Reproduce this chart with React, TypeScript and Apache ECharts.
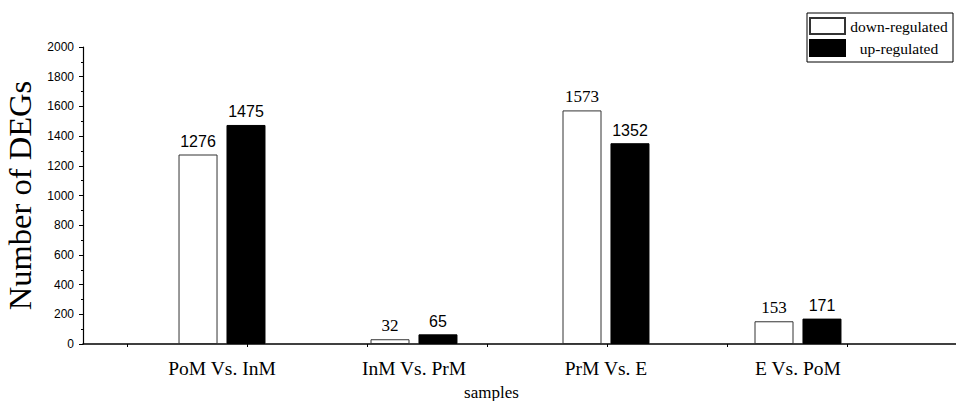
import React, { useEffect, useRef } from "react";
import * as echarts from "echarts";

const categories = ["PoM Vs. InM", "InM Vs. PrM", "PrM Vs. E", "E Vs. PoM"];
const downRegulated = [1276, 32, 1573, 153];
const upRegulated = [1475, 65, 1352, 171];
const categoryPositions = [1, 2, 3, 4];
const xTickPositions = [0.505, 1.13, 1.755, 2.38, 3.005, 3.63, 4.255];
const downLabelSerif = [false, true, true, true];

const SERIF = "'Liberation Serif', 'Times New Roman', serif";
const SANS = "'Liberation Sans', Arial, sans-serif";

export default function App() {
  const ref = useRef<HTMLDivElement>(null);
  useEffect(() => {
    const chart = echarts.init(ref.current!, null, { renderer: "svg" });
    chart.setOption({
      animation: false,
      backgroundColor: "#fff",
      grid: { left: 83, right: 0, top: 47, bottom: 57, containLabel: false, outerBoundsMode: "none" },
      legend: {
        orient: "vertical",
        left: 807,
        top: 13,
        padding: [4, 5, 5, 2],
        itemWidth: 35,
        itemHeight: 16,
        itemGap: 4,
        borderColor: "#000",
        borderWidth: 1,
        borderRadius: 0,
        icon: "rect",
        formatter: (name: string) => `{t|${name}}`,
        textStyle: {
          color: "#000",
          rich: {
            t: { fontFamily: SERIF, fontSize: 15.5, color: "#000", width: 98, align: "center", lineHeight: 16 },
          },
        },
        data: ["down-regulated", "up-regulated"],
      },
      xAxis: {
        type: "value",
        min: 0.276,
        max: 4.823,
        name: "samples",
        nameLocation: "middle",
        nameGap: 40,
        nameTextStyle: { fontFamily: SERIF, fontSize: 17, color: "#000", padding: [0, 56, 0, 0] },
        splitLine: { show: false },
        axisLine: { show: true, lineStyle: { color: "#000", width: 1.5 } },
        axisTick: { show: true, customValues: xTickPositions, length: 3, lineStyle: { color: "#000" } },
        axisLabel: {
          customValues: categoryPositions,
          formatter: (v: number) => categories[Math.round(v) - 1] ?? "",
          fontFamily: SERIF,
          fontSize: 19.5,
          color: "#000",
          margin: 14,
        },
      },
      yAxis: {
        type: "value",
        min: 0,
        max: 2000,
        interval: 200,
        name: "Number of DEGs",
        nameLocation: "middle",
        nameGap: 43,
        nameTextStyle: { fontFamily: SERIF, fontSize: 32.5, color: "#000" },
        splitLine: { show: false },
        axisLine: { show: true, lineStyle: { color: "#000", width: 1.2 } },
        axisTick: { show: true, length: 4, lineStyle: { color: "#000" } },
        minorTick: { show: true, splitNumber: 2, length: 2, lineStyle: { color: "#000" } },
        axisLabel: { fontFamily: SANS, fontSize: 12, color: "#000", margin: 9, formatter: (v: number) => String(v) },
      },
      series: [
        {
          name: "down-regulated",
          type: "bar",
          barWidth: 39,
          barGap: "23%",
          itemStyle: { color: "#fff", borderColor: "#333", borderWidth: 1 },
          label: { show: true, position: "top", distance: 5, color: "#000", fontSize: 16 },
          data: downRegulated.map((v, i) => ({
            value: [categoryPositions[i], v],
            label: { fontFamily: downLabelSerif[i] ? SERIF : SANS, fontSize: downLabelSerif[i] ? 17 : 16, formatter: String(v) },
          })),
        },
        {
          name: "up-regulated",
          type: "bar",
          barWidth: 39,
          barGap: "23%",
          itemStyle: { color: "#000", borderColor: "#000", borderWidth: 1 },
          label: { show: true, position: "top", distance: 5, color: "#000", fontSize: 16, fontFamily: SANS },
          data: upRegulated.map((v, i) => ({
            value: [categoryPositions[i], v],
            label: { formatter: String(v) },
          })),
        },
      ],
    });
    return () => chart.dispose();
  }, []);
  return <div ref={ref} style={{ width: 956, height: 401, position: "absolute", left: 0, top: 0 }} />;
}
